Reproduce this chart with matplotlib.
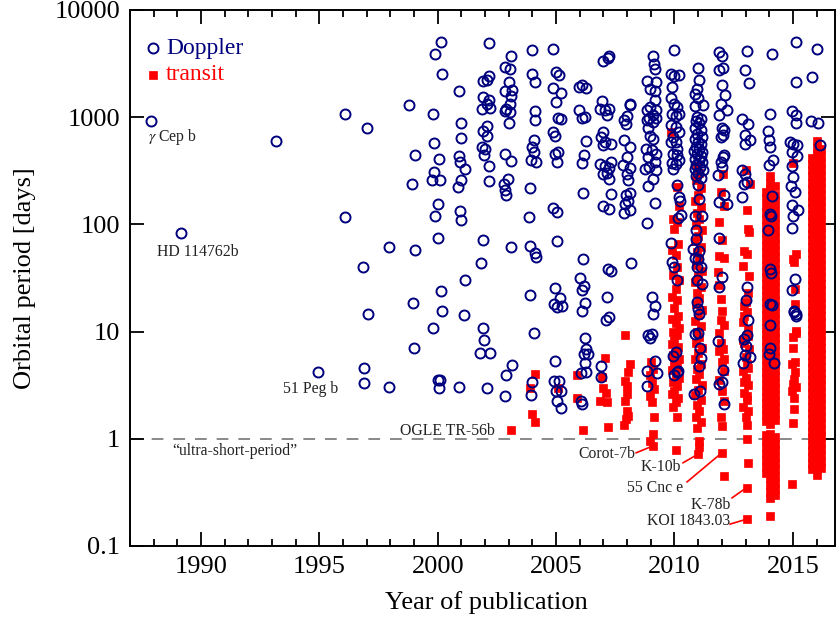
import matplotlib
matplotlib.use("Agg")
import matplotlib.pyplot as plt
from matplotlib.ticker import FixedLocator, NullLocator, MultipleLocator

plt.rcParams['font.family'] = ['Liberation Serif', 'DejaVu Serif']
plt.rcParams['mathtext.fontset'] = 'stix'

NAVY = '#00007f'
RED = '#ff0000'

# Doppler detections: (year of publication, orbital period in days)
doppler_early = [
    (1987.9, 920), (1989.15, 84), (1993.15, 600), (1994.95, 4.2), (1996.1, 1070),
    (1996.1, 116), (1996.9, 4.6), (1996.9, 3.3), (1997.0, 800), (1996.85, 40),
    (1997.05, 14.7), (1997.95, 3.06), (1997.95, 61), (1998.8, 1300), (1999.05, 442),
    (1998.9, 240), (1999.05, 58), (1998.95, 18.3), (1999.0, 7.1),
    # 2000
    (2000.15, 5040), (1999.9, 3850), (2000.2, 2520), (1999.8, 1070), (1999.85, 571),
    (2000.05, 408), (1999.85, 309), (1999.75, 257), (2000.1, 257), (2000.0, 155),
    (1999.9, 119), (2000.0, 75), (2000.15, 24), (2000.2, 15.6), (1999.8, 10.7),
    (2000.0, 3.5), (2000.1, 3.5), (2000.05, 3.0),
    # 2001
    (2000.9, 1760), (2000.97, 885), (2000.97, 646), (2000.9, 439), (2000.95, 380),
    (2001.15, 327), (2000.97, 262), (2000.85, 223), (2000.95, 134), (2000.97, 111),
    (2001.15, 30), (2001.1, 14.3), (2000.9, 3.06),
    # 2002
    (2002.17, 4950), (2002.18, 2420), (2002.1, 2240), (2001.9, 2180), (2001.9, 1530),
    (2002.15, 1440), (2002.1, 1320), (2002.2, 1220), (2001.85, 1190), (2002.1, 824),
    (2001.9, 743), (2002.1, 664), (2001.85, 526), (2001.98, 502), (2001.95, 442),
    (2002.15, 351), (2002.18, 254), (2001.9, 71), (2001.83, 44), (2001.9, 10.8),
    (2001.95, 8.4), (2001.8, 6.3), (2002.2, 6.3), (2002.1, 2.95),
    # 2003
    (2003.1, 3720), (2002.85, 2920), (2003.05, 2790), (2003.0, 2140), (2002.85, 1750),
    (2003.15, 1790), (2003.1, 1570), (2003.05, 1320), (2002.9, 1180), (2003.05, 1120),
    (2002.85, 1140), (2003.0, 885), (2002.85, 451), (2003.1, 394), (2002.95, 267),
    (2002.8, 237), (2002.85, 211), (2002.9, 189), (2003.1, 61), (2002.9, 3.9),
    (2003.15, 4.9), (2002.85, 2.5),
    # 2004
    (2003.98, 4230), (2003.98, 2520), (2004.1, 2110), (2004.1, 1140), (2004.12, 935),
    (2003.97, 526), (2004.05, 474), (2003.95, 403), (2004.15, 382), (2004.05, 610),
    (2003.9, 219), (2003.85, 118), (2003.88, 63), (2004.1, 54), (2004.15, 50),
    (2003.88, 21.8), (2004.05, 9.6), (2004.0, 3.36), (2003.95, 2.57),
]

doppler_mid = [
    # 2005
    (2004.88, 4290), (2004.98, 2640), (2005.12, 2450), (2004.85, 1870), (2005.2, 1690),
    (2004.98, 1380), (2005.1, 993), (2005.2, 955), (2004.85, 724), (2004.95, 669),
    (2005.1, 474), (2004.95, 451), (2005.02, 382), (2004.88, 143), (2005.02, 130),
    (2005.05, 70), (2004.95, 25.6), (2005.15, 20.6), (2004.9, 17.9), (2005.05, 16.9),
    (2005.25, 17.2), (2004.95, 5.3), (2004.9, 3.48), (2005.12, 3.48), (2005.0, 2.81),
    (2005.2, 2.81), (2005.05, 2.26), (2005.2, 1.92),
    # 2006
    (2005.97, 1930), (2006.1, 1990), (2006.27, 1880), (2005.98, 1160), (2006.2, 1010),
    (2006.1, 977), (2006.25, 597), (2006.17, 447), (2006.1, 374), (2006.12, 198),
    (2006.15, 47.8), (2006.0, 31.9), (2006.17, 26.5), (2006.1, 24.2), (2006.2, 18.4),
    (2006.1, 15.5), (2006.2, 8.7), (2006.25, 6.9), (2006.17, 6.2), (2006.35, 6.2),
    (2006.2, 5.1), (2006.25, 4.2), (2006.05, 4.08), (2006.05, 2.26), (2006.1, 2.1),
    # 2007
    (2007.0, 3340), (2007.2, 3540), (2007.22, 3720), (2006.92, 1430), (2007.08, 1160),
    (2006.87, 1200), (2007.25, 1200), (2007.15, 1040), (2007.0, 725), (2006.9, 655),
    (2007.08, 589), (2007.33, 560), (2007.0, 547), (2006.87, 362), (2007.05, 348),
    (2007.3, 382), (2007.22, 336), (2007.15, 300), (2007.0, 298), (2007.22, 263),
    (2007.3, 194), (2007.0, 148), (2007.25, 140), (2007.2, 38.2), (2007.32, 36.6),
    (2007.13, 21.2), (2007.22, 13.6), (2007.1, 12.9), (2006.9, 4.74), (2006.9, 3.78),
    # 2008
    (2008.13, 1340), (2008.1, 1290), (2007.98, 1020), (2007.88, 935), (2007.95, 860),
    (2007.85, 610), (2008.13, 526), (2008.0, 426), (2007.82, 361), (2008.13, 336),
    (2008.0, 298), (2008.05, 257), (2008.13, 196), (2007.95, 186), (2008.05, 167),
    (2007.9, 156), (2008.13, 137), (2007.85, 129), (2008.17, 43.5),
    # 2009
    (2009.08, 3720), (2009.15, 3160), (2009.18, 2790), (2008.83, 2170), (2009.22, 2140),
    (2008.97, 1820), (2009.18, 1760), (2009.18, 1460), (2008.97, 1250), (2008.83, 1160),
    (2009.22, 1160), (2009.08, 1040), (2008.93, 993), (2009.22, 993), (2009.1, 904),
    (2008.83, 937), (2008.9, 785), (2008.97, 664), (2009.1, 630), (2008.8, 510),
    (2009.05, 492), (2009.22, 458), (2008.9, 426), (2009.18, 382), (2008.93, 343),
    (2009.22, 320), (2008.77, 332), (2009.1, 267), (2008.9, 228), (2009.18, 157),
    (2008.83, 104), (2009.05, 20.9), (2009.18, 17.5), (2009.1, 14.6), (2009.05, 9.5),
    (2008.9, 9.2), (2008.97, 8.7), (2009.18, 5.36), (2008.85, 4.3), (2009.25, 4.1),
    (2008.83, 3.13),
]

doppler_late = [
    # 2010
    (2009.97, 4230), (2009.85, 2520), (2010.0, 2420), (2010.2, 2460), (2009.9, 1900),
    (2009.85, 1510), (2010.0, 1320), (2010.1, 1250), (2009.9, 1080), (2010.05, 1020),
    (2010.18, 1080), (2009.85, 841), (2010.05, 812), (2010.18, 729), (2009.92, 655),
    (2009.85, 589), (2010.05, 589), (2010.12, 510), (2009.92, 458), (2010.1, 442),
    (2009.9, 374), (2010.05, 369), (2009.95, 332), (2010.18, 396), (2010.1, 231),
    (2010.18, 180), (2010.22, 167), (2010.15, 115), (2010.27, 123), (2009.85, 67.5),
    (2009.9, 45), (2010.0, 40), (2010.1, 30), (2009.95, 5.97), (2010.08, 6.4),
    (2010.15, 4.3), (2010.0, 3.9), (2010.1, 4.2),
    # 2011
    (2010.98, 2890), (2011.02, 2240), (2010.95, 1850), (2010.85, 1660), (2011.0, 1500),
    (2010.85, 1260), (2011.2, 1290), (2010.97, 1000), (2011.12, 960), (2010.9, 930),
    (2011.05, 880), (2010.85, 800), (2011.1, 760), (2010.95, 700), (2011.15, 660),
    (2010.85, 620), (2011.0, 590), (2011.12, 560), (2010.9, 530), (2011.05, 505),
    (2010.82, 480), (2011.18, 470), (2010.97, 450), (2011.1, 430), (2010.88, 410),
    (2011.03, 395), (2011.15, 380), (2010.92, 360), (2011.07, 345), (2010.85, 330),
    (2011.2, 320), (2011.0, 300), (2010.9, 285), (2011.1, 270), (2011.0, 231),
    (2011.05, 174), (2010.85, 121), (2011.17, 121), (2010.9, 89), (2010.9, 73.5),
    (2010.8, 59), (2011.05, 57), (2010.85, 49), (2011.0, 47.8), (2010.93, 40),
    (2011.1, 40), (2010.93, 30), (2011.15, 27.9), (2010.97, 18.8), (2011.0, 16.3),
    (2011.05, 14.6), (2010.88, 9.5), (2011.0, 9.6), (2011.08, 7.1), (2011.13, 5.7),
    (2011.05, 4.8), (2010.83, 2.6), (2011.08, 2.8),
    # 2012
    (2011.9, 4080), (2012.0, 3720), (2011.9, 2750), (2012.05, 2850), (2012.02, 1990),
    (2012.12, 1620), (2011.95, 1340), (2012.2, 1160), (2011.9, 1040), (2012.0, 785),
    (2012.08, 758), (2011.95, 655), (2012.05, 677), (2012.1, 442), (2012.05, 426),
    (2011.95, 382), (2012.02, 343), (2011.85, 287), (2012.08, 190), (2011.9, 161),
    (2012.2, 156), (2011.9, 75), (2012.0, 32), (2011.9, 26.3), (2011.85, 8.1),
    (2012.05, 4.4), (2011.9, 3.24), (2012.0, 3.36), (2012.08, 2.1),
    # 2013
    (2013.05, 4170), (2012.98, 2750), (2013.15, 2090), (2012.85, 955), (2013.1, 870),
    (2012.98, 677), (2013.18, 610), (2012.98, 568), (2012.85, 324), (2012.98, 298),
    (2013.05, 248), (2012.95, 240), (2012.85, 180), (2013.05, 26), (2013.02, 19.5),
    (2013.1, 12.7), (2013.05, 9.2), (2012.95, 8.5), (2013.02, 7.4), (2012.98, 6.0),
    (2013.18, 5.75), (2012.9, 5.1),
    # 2014
    (2014.1, 3850), (2014.05, 1060), (2013.95, 743), (2014.0, 610), (2014.05, 526),
    (2014.15, 403), (2014.0, 361), (2014.1, 184), (2014.05, 126), (2014.07, 119),
    (2013.95, 88), (2014.05, 38.5), (2014.07, 35.4), (2014.02, 18.2), (2014.1, 17.8),
    (2014.05, 11.4), (2014.02, 7.0), (2013.98, 6.2), (2014.2, 5.1),
    # 2015
    (2015.12, 5050), (2015.15, 2140), (2014.95, 1140), (2015.12, 1040), (2015.13, 885),
    (2014.9, 589), (2015.02, 568), (2015.17, 547), (2014.97, 474), (2015.17, 432),
    (2014.98, 348), (2015.02, 277), (2014.92, 226), (2015.1, 200), (2014.98, 151),
    (2015.2, 135), (2015.0, 121), (2014.98, 92), (2015.08, 31), (2014.98, 24.5),
    (2015.05, 15.5), (2015.12, 14.6), (2015.05, 15.1), (2015.12, 14.1),
    # 2016
    (2016.0, 4370), (2015.8, 2390), (2015.75, 924), (2016.05, 885), (2016.15, 547),
]

# Transit detections, sparse years: (year, period)
transit_sparse = [
    (2003.1, 1.22), (2004.1, 4.0), (2003.9, 3.0), (2004.0, 1.7), (2004.1, 1.42),
    (2005.1, 3.0), (2005.9, 3.9), (2005.9, 2.4), (2006.15, 1.21),
    (2007.05, 5.7), (2006.95, 3.74), (2007.0, 3.0), (2006.85, 2.26), (2007.1, 2.7),
    (2007.15, 2.2), (2007.2, 1.3),
    (2007.9, 9.2), (2008.1, 5.0), (2008.05, 4.2), (2007.9, 3.48), (2008.0, 3.13),
    (2008.0, 2.6), (2007.9, 2.26), (2008.0, 1.83), (2008.05, 1.64), (2007.95, 1.54),
    (2007.85, 1.35),
    (2009.0, 5.2), (2009.1, 4.5), (2008.95, 3.9), (2009.05, 3.3), (2009.15, 2.9),
    (2008.95, 2.5), (2009.05, 2.2), (2009.15, 1.58), (2009.1, 1.1), (2008.95, 0.96),
    (2009.1, 0.86),
    (2015.0, 372), (2015.12, 53), (2015.0, 48), (2015.05, 44.5), (2015.1, 25),
    (2015.1, 18.2), (2015.12, 10.2), (2015.15, 9.8), (2015.0, 8.85), (2015.0, 7.0),
    (2015.1, 5.2), (2014.95, 5.0), (2015.1, 4.2), (2015.05, 3.6), (2015.0, 3.24),
    (2015.15, 3.06), (2014.95, 2.8), (2015.05, 2.4), (2015.05, 1.89), (2015.0, 1.39),
    (2014.95, 0.38),
]

transit_2010 = [
    (2009.85, 729), (2010.1, 224), (2010.2, 150), (2009.95, 113), (2010.1, 105),
    (2010.0, 91), (2010.15, 66), (2009.9, 58), (2010.05, 52), (2010.1, 40),
    (2009.95, 34), (2010.2, 30), (2010.05, 25), (2009.9, 21), (2010.1, 19.5),
    (2010.0, 16.5), (2010.15, 14), (2009.9, 13), (2010.05, 12), (2010.2, 10.8),
    (2009.95, 10), (2010.1, 9.2), (2010.0, 8.4), (2009.88, 7.6), (2010.15, 7.2),
    (2010.05, 6.6), (2009.95, 6.0), (2010.2, 5.6), (2010.0, 5.2), (2010.1, 4.7),
    (2009.9, 4.4), (2010.05, 4.0), (2010.2, 3.7), (2009.95, 3.4), (2010.1, 3.1),
    (2010.0, 2.8), (2009.9, 2.6), (2010.15, 2.4), (2010.05, 2.2), (2009.95, 2.0),
    (2010.1, 1.58), (2010.08, 0.79),
]

transit_2011 = [
    (2010.95, 350), (2011.05, 300), (2010.9, 260), (2011.1, 220), (2011.0, 190),
    (2010.85, 165), (2011.1, 145), (2010.95, 128), (2011.05, 112), (2010.9, 98),
    (2011.15, 88), (2011.0, 78), (2010.85, 70), (2011.1, 62), (2010.95, 55),
    (2011.05, 48), (2010.9, 42), (2011.15, 37), (2011.0, 33), (2010.85, 29),
    (2011.1, 26), (2010.95, 23), (2011.05, 20.5), (2010.9, 18), (2011.15, 16),
    (2011.0, 14.2), (2010.85, 12.6), (2011.1, 11.2), (2010.95, 10), (2011.05, 8.9),
    (2010.9, 7.9), (2011.15, 7.0), (2011.0, 6.3), (2010.85, 5.6), (2011.1, 5.0),
    (2010.95, 4.5), (2011.05, 4.0), (2010.9, 3.6), (2011.15, 3.2), (2011.0, 2.85),
    (2010.85, 2.55), (2011.1, 2.3), (2010.95, 2.05), (2011.05, 1.8), (2010.9, 1.6),
    (2011.1, 1.42), (2010.95, 1.25), (2011.05, 0.95), (2011.05, 0.83), (2011.0, 0.72),
]

transit_2012_2013 = [
    (2012.05, 298), (2011.95, 200), (2012.1, 150), (2011.9, 105), (2012.0, 72),
    (2011.9, 51), (2012.1, 49), (2011.85, 36), (2011.9, 27), (2011.95, 20),
    (2012.0, 15.7), (2011.95, 12.7), (2012.1, 11.4), (2011.9, 9.8), (2011.95, 7.9),
    (2012.05, 6.9), (2011.9, 6.6), (2012.1, 5.6), (2012.0, 5.2), (2012.1, 4.3),
    (2011.88, 3.5), (2012.0, 2.8), (2012.1, 2.26), (2011.95, 1.58), (2012.0, 1.32),
    (2012.0, 0.74), (2012.1, 0.45),
    (2013.0, 320), (2013.2, 240), (2013.05, 135), (2013.1, 91), (2013.15, 85),
    (2012.95, 57), (2013.05, 53), (2012.9, 41), (2013.15, 33), (2013.1, 23),
    (2013.0, 19), (2012.95, 17.5), (2013.05, 15.1), (2012.95, 14), (2012.9, 12.2),
    (2013.1, 10.6), (2013.1, 9.0), (2012.9, 8.3), (2012.95, 7.9), (2013.15, 6.9),
    (2013.0, 5.75), (2013.05, 5.0), (2013.1, 4.6), (2012.9, 4.3), (2013.0, 3.7),
    (2012.95, 3.4), (2013.1, 3.2), (2012.95, 2.7), (2013.05, 2.5), (2013.05, 2.3),
    (2012.9, 2.0), (2013.1, 1.8), (2013.0, 1.6), (2013.05, 1.35), (2013.05, 1.0),
    (2013.1, 0.6), (2013.05, 0.35), (2013.08, 0.178),
]

# dense Kepler columns: one period list per publication date
transit_2014_years = [2013.85, 2014.05, 2014.25]
transit_2014_periods = [
    [200, 175, 150, 130, 112, 97, 84, 73, 63, 55, 48, 42, 36.5, 32, 28, 24.5, 21.5,
     18.8, 16.4, 14.3, 12.5, 10.9, 9.5, 8.3, 7.2, 6.3, 5.5, 4.8, 4.2, 3.7, 3.2, 2.8,
     2.45, 2.15, 1.9, 1.66, 1.45, 1.08, 0.95, 0.83, 0.72, 0.63, 0.55, 0.48],
    [280, 245, 212, 185, 160, 140, 122, 106, 92, 80, 70, 61, 53, 46, 40, 35, 30.5,
     26.5, 23, 20, 17.5, 15.2, 13.3, 11.6, 10.1, 8.8, 7.7, 6.7, 5.9, 5.1, 4.45, 3.9,
     3.4, 3.0, 2.6, 2.3, 2.0, 1.75, 1.55, 1.38, 1.1, 0.96, 0.84, 0.73, 0.64, 0.56,
     0.49, 0.43, 0.37, 0.32, 0.28, 0.19],
    [230, 190, 165, 138, 118, 100, 86, 75, 65, 57, 50, 44, 38, 33.5, 29.5, 26, 22.5,
     19.8, 17.2, 15, 13.1, 11.4, 10, 8.7, 7.6, 6.6, 5.8, 5.0, 4.4, 3.85, 3.35, 2.95,
     2.55, 2.25, 1.97, 1.72, 1.5, 1.04, 0.9, 0.78, 0.68, 0.6, 0.52, 0.45, 0.39, 0.34,
     0.3],
]

transit_2016_years = [2015.8, 2016.0, 2016.2]
transit_2016_periods = [
    [420, 365, 320, 280, 245, 212, 185, 162, 141, 123, 107, 93, 81, 71, 62, 54, 47,
     41, 36, 31, 27, 23.5, 20.5, 18, 15.7, 13.7, 12, 10.4, 9.1, 7.9, 6.9, 6.0, 5.25,
     4.6, 4.0, 3.5, 3.05, 2.65, 2.3, 2.0, 1.75, 1.53, 1.33, 1.16, 1.01, 0.88, 0.77,
     0.67, 0.59, 0.52],
    [600, 520, 450, 390, 340, 295, 258, 225, 196, 170, 148, 129, 112, 98, 85, 74,
     64.5, 56, 49, 42.5, 37, 32.3, 28.1, 24.5, 21.3, 18.6, 16.2, 14.1, 12.3, 10.7,
     9.3, 8.1, 7.05, 6.15, 5.35, 4.65, 4.05, 3.55, 3.1, 2.7, 2.35, 2.05, 1.78, 1.55,
     1.35, 1.18, 1.03, 0.9, 0.78, 0.68, 0.6, 0.52, 0.46],
    [500, 435, 375, 330, 285, 250, 218, 190, 165, 144, 125, 109, 95, 83, 72, 63, 55,
     48, 42, 36.5, 32, 28, 24.3, 21.2, 18.5, 16.1, 14, 12.2, 10.6, 9.3, 8.1, 7.1,
     6.2, 5.4, 4.7, 4.1, 3.6, 3.15, 2.75, 2.4, 2.1, 1.82, 1.59, 1.39, 1.21, 1.06,
     0.92, 0.8, 0.7, 0.61, 0.53],
]

# planet name labels: text, text position (year, period)
name_labels = [
    ("$\\gamma$ Cep b", 1987.76, 650),
    ("HD 114762b", 1988.14, 54.7),
    ("51 Peg b", 1993.46, 2.93),
    ("\u201cultra-short-period\u201d", 1988.77, 0.77),
    ("OGLE TR-56b", 1998.41, 1.19),
]
# labels with red pointer lines: text, text position, line start, line end
pointer_labels = [
    ("Corot-7b", 2005.93, 0.72, (2008.38, 0.74), (2009.1, 0.86)),
    ("K-10b", 2008.55, 0.547, (2010.36, 0.597), (2011.0, 0.72)),
    ("55 Cnc e", 2008.0, 0.348, (2010.53, 0.396), (2012.0, 0.74)),
    ("K-78b", 2010.66, 0.242, (2012.43, 0.281), (2013.0, 0.345)),
    ("KOI 1843.03", 2008.84, 0.171, (2012.35, 0.16), (2013.05, 0.178)),
]

fig = plt.figure(figsize=(8.36, 6.17), dpi=100)
ax = fig.add_axes([0.1555, 0.1151, 0.8433, 0.8687])

sq = dict(marker='s', ls='none', ms=5.6, mfc=RED, mec=RED, mew=0.5, zorder=2)
circ = dict(marker='o', ls='none', ms=7.2, mfc='none', mec=NAVY, mew=1.4, zorder=3)

ax.axhline(1.0, color='#808080', lw=1.3, ls=(0, (6.5, 5.5)), zorder=1)

for pts in (transit_sparse, transit_2010, transit_2011, transit_2012_2013):
    ax.plot([p[0] for p in pts], [p[1] for p in pts], **sq)
for yr, per in zip(transit_2014_years, transit_2014_periods):
    ax.plot([yr] * len(per), per, **sq)
for yr, per in zip(transit_2016_years, transit_2016_periods):
    ax.plot([yr] * len(per), per, **sq)

for pts in (doppler_early, doppler_mid, doppler_late):
    ax.plot([p[0] for p in pts], [p[1] for p in pts], **circ)

for txt, x, y in name_labels:
    ax.text(x, y, txt, fontsize=11.3, color='#222222', ha='left', va='center')
for txt, x, y, p0, p1 in pointer_labels:
    ax.text(x, y, txt, fontsize=11.3, color='#222222', ha='left', va='center')
    ax.plot([p0[0], p1[0]], [p0[1], p1[1]], color=RED, lw=1.2, zorder=4)

# legend drawn by hand in the upper left corner
ax.plot([0.0326], [0.929], transform=ax.transAxes, **circ)
ax.text(0.051, 0.929, "Doppler", transform=ax.transAxes, color=NAVY,
        fontsize=17, ha='left', va='center')
ax.plot([0.0326], [0.879], transform=ax.transAxes, **sq)
ax.text(0.051, 0.879, "transit", transform=ax.transAxes, color=RED,
        fontsize=17, ha='left', va='center')

ax.set_yscale('log')
ax.set_xlim(1987, 2016.78)
ax.set_ylim(0.1, 10000)
ax.xaxis.set_minor_locator(MultipleLocator(1))
ax.set_xticks([1990, 1995, 2000, 2005, 2010, 2015])
ax.set_xticklabels(['1990', '1995', '2000', '2005', '2010', '2015'])
ax.yaxis.set_major_locator(FixedLocator([0.1, 1, 10, 100, 1000, 10000]))
ax.set_yticklabels(['0.1', '1', '10', '100', '1000', '10000'])
ax.yaxis.set_minor_locator(NullLocator())

ax.tick_params(which='both', direction='in', top=True, right=True, width=1.3,
               labelsize=19, colors='black')
ax.tick_params(which='major', length=10, pad=7)
ax.tick_params(which='minor', length=5)
for s in ax.spines.values():
    s.set_linewidth(1.4)

ax.set_xlabel("Year of publication", fontsize=19)
ax.xaxis.label.set_va('center')
ax.xaxis.set_label_coords(0.505, -0.106)
ax.set_ylabel("Orbital period [days]", fontsize=19)
ax.yaxis.label.set_va('center')
ax.yaxis.set_label_coords(-0.149, 0.5)

fig.savefig("out.png", dpi=100)
